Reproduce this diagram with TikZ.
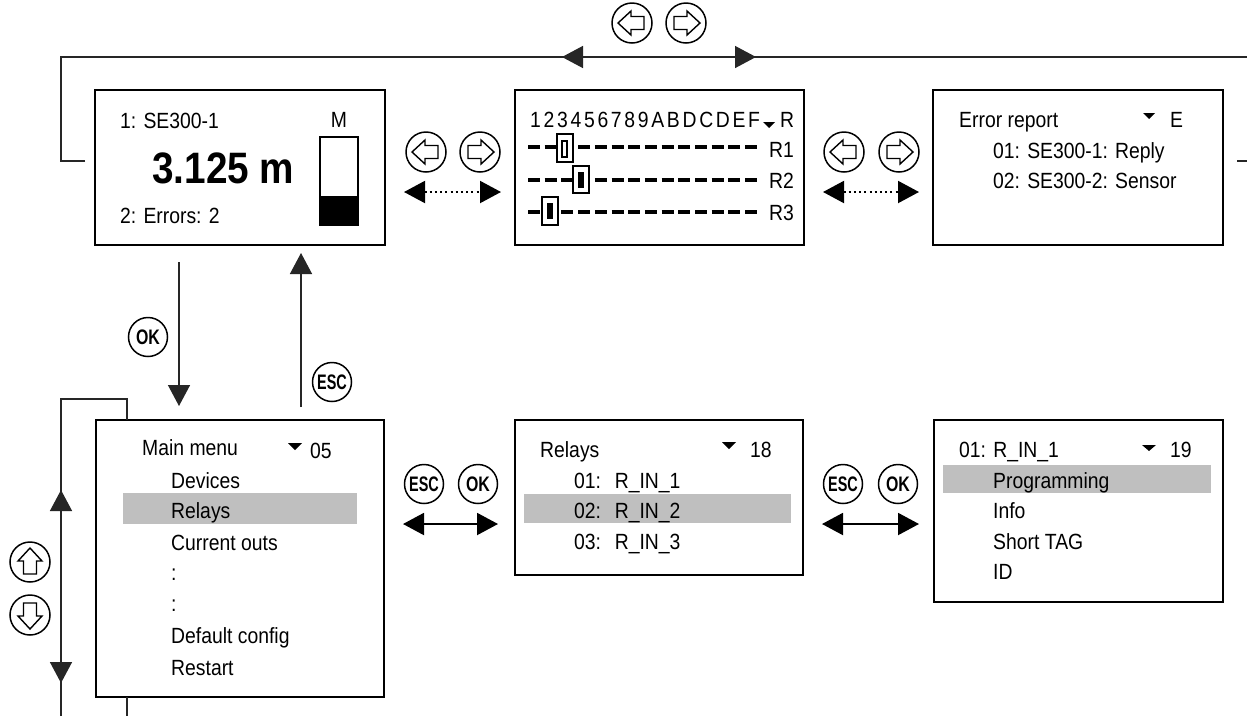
\documentclass[tikz,border=0pt]{standalone}
\usepackage{fontspec}
\setmainfont{Liberation Sans}[FakeStretch=0.88]
\usetikzlibrary{arrows.meta}
\newcommand\fsz{\fontsize{22}{26}\selectfont}
\newcommand\dtri[4]{\fill (#1-#3,#2) -- (#1+#3,#2) -- (#1,#2+#4) -- cycle;}
\newcommand\inarrow[2]{\draw[btnline, shift={(#1.center)}, rotate=#2] (-14,0) -- (-1,-12) -- (-1,-6.5) -- (12,-6.5) -- (12,6.5) -- (-1,6.5) -- (-1,12) -- cycle;}
\newcommand\lsp{\hspace{2.7pt}}
\begin{document}
\begin{tikzpicture}[x=1pt,y=-1pt,line join=miter,
  screen/.style={draw, line width=2.6pt, rectangle, inner sep=0pt},
  conn/.style={line width=1.4pt, draw=black!85},
  bigtri/.style={-{Triangle[length=21pt,width=22pt]}},
  dbltri/.style={{Triangle[length=21pt,width=22pt]}-{Triangle[length=21pt,width=22pt]}},
  btn/.style={circle, draw, line width=1.5pt, minimum size=40pt, inner sep=0pt},
  btnline/.style={line width=1.4pt},
  keybtn/.style={circle, draw, line width=1.5pt, minimum size=39pt, inner sep=0pt, font=\fontsize{21}{21}\selectfont\bfseries},
  txt/.style={anchor=base west, inner sep=0pt, font=\fsz},
  hl/.style={fill=black!25}]
\useasboundingbox (0,0) rectangle (1247,716);
\fill[white] (0,0) rectangle (1247,716);

% ---------- highlights ----------
\fill[hl] (123,493) rectangle (357,524);
\fill[hl] (524,494) rectangle (791,523);
\fill[hl] (943,465) rectangle (1211,493);

% ---------- screens ----------
\node[screen, minimum width=290pt, minimum height=155pt] (s1) at (240,167.5) {};
\node[screen, minimum width=289pt, minimum height=155pt] (s2) at (659.5,167.5) {};
\node[screen, minimum width=290pt, minimum height=155pt] (s3) at (1078,167.5) {};
\node[screen, minimum width=288pt, minimum height=277pt] (m1) at (240,558.5) {};
\node[screen, minimum width=288pt, minimum height=155pt] (m2) at (659,497.5) {};
\node[screen, minimum width=289pt, minimum height=182pt] (m3) at (1078.5,511) {};

% ---------- screen 1 ----------
\node[txt] (t11) at (120,128) {1: SE300-1};
\node[anchor=base, inner sep=0pt, font=\fsz] (t12) at (339,127) {M};
\node[txt, font=\fontsize{44}{50}\selectfont\bfseries] (t13) at (152,183) {3.125 m};
\node[txt] (t14) at (120,223) {2: Errors: 2};
\draw[line width=1.4pt] (320,137) rectangle (358,225);
\fill (320,196) rectangle (358,225);

% ---------- screen 2 ----------
\node[txt] (t2h) at (530,127) {1\lsp2\lsp3\lsp4\lsp5\lsp6\lsp7\lsp8\lsp9\lsp A\lsp B\lsp D\lsp C\lsp D\lsp E\lsp F};
\dtri{769}{122}{6}{6}
\node[txt] (t2r) at (780,127) {R};
\foreach \yy in {147,180,212}
  \draw[line width=4pt, dash pattern=on 12pt off 4.7pt] (528,\yy) -- (757,\yy);
\draw[line width=1.4pt, fill=white] (557,134) rectangle (573,162);
\draw[line width=1.4pt] (562,141) rectangle (567,157);
\draw[line width=1.4pt, fill=white] (573,166) rectangle (589,193);
\fill (578,172) rectangle (584,188);
\draw[line width=1.4pt, fill=white] (542,197) rectangle (558,225);
\fill (547,203) rectangle (553,219);
\node[txt] (r1) at (769,157) {R1};
\node[txt] (r2) at (769,188) {R2};
\node[txt] (r3) at (769,220) {R3};

% ---------- screen 3 ----------
\node[txt] (t31) at (959,127) {Error report};
\dtri{1149}{113}{6}{6}
\node[txt] (t32) at (1170,127) {E};
\node[txt] (t33) at (993,158) {01: SE300-1: Reply};
\node[txt] (t34) at (993,188) {02: SE300-2: Sensor};

% ---------- main menu ----------
\node[txt] (u0) at (142,455) {Main menu};
\dtri{295}{443}{7}{7}
\node[txt] (u00) at (310,458) {05};
\node[txt] (u1) at (171,488) {Devices};
\node[txt] (u2) at (171,518) {Relays};
\node[txt] (u3) at (171,550) {Current outs};
\node[txt] (u4) at (171,580) {:};
\node[txt] (u5) at (171,611) {:};
\node[txt] (u6) at (171,643) {Default config};
\node[txt] (u7) at (171,675) {Restart};

% ---------- relays ----------
\node[txt] (v0) at (540,457) {Relays};
\dtri{729}{442}{7}{7}
\node[txt] (v00) at (750,457) {18};
\node[txt] (v1) at (574,488) {01: \hspace{6.5pt}R\_IN\_1};
\node[txt] (v2) at (574,518) {02: \hspace{6.5pt}R\_IN\_2};
\node[txt] (v3) at (574,549) {03: \hspace{6.5pt}R\_IN\_3};

% ---------- relay 1 ----------
\node[txt] (w0) at (959,457) {01: R\_IN\_1};
\dtri{1149}{445}{7}{6}
\node[txt] (w00) at (1170,457) {19};
\node[txt] (w1) at (993,488) {Programming};
\node[txt] (w2) at (993,518) {Info};
\node[txt] (w3) at (993,549) {Short TAG};
\node[txt] (w4) at (993,579) {ID};

% ---------- top loop ----------
\coordinate (p1) at (85,161);
\coordinate (p2) at (61,161);
\coordinate (p3) at (61,57);
\coordinate (p4) at (1247,57);
\coordinate (p5) at (1237,161);
\coordinate (p6) at (1247,161);
\draw[conn] (p1) -- (p2) -- (p3) -- (p4);
\draw[conn] (p5) -- (p6);
\coordinate (ta1) at (585,57); \coordinate (ta2) at (562,57);
\coordinate (tb1) at (733,57); \coordinate (tb2) at (756,57);
\draw[conn, bigtri] (ta1) -- (ta2);
\draw[conn, bigtri] (tb1) -- (tb2);
\node[btn] (bt1) at (632,23) {};
\node[btn] (bt2) at (686,23) {};
\inarrow{bt1}{0}
\inarrow{bt2}{180}

% ---------- between top screens ----------
\coordinate (d1a) at (404,192); \coordinate (d1b) at (501,192);
\coordinate (d2a) at (823,192); \coordinate (d2b) at (919,192);
\draw[line width=2pt, dash pattern=on 2pt off 3.2pt, dbltri] (d1a) -- (d1b);
\draw[line width=2pt, dash pattern=on 2pt off 3.2pt, dbltri] (d2a) -- (d2b);
\node[btn] (bm1) at (426,152) {};
\node[btn] (bm2) at (480,152) {};
\node[btn] (bm3) at (844,152) {};
\node[btn] (bm4) at (899,152) {};
\inarrow{bm1}{0}
\inarrow{bm2}{180}
\inarrow{bm3}{0}
\inarrow{bm4}{180}

% ---------- OK / ESC vertical ----------
\coordinate (ok1) at (179,262); \coordinate (ok2) at (179,406);
\coordinate (es1) at (301,407); \coordinate (es2) at (301,253);
\draw[conn, bigtri] (ok1) -- (ok2);
\draw[conn, bigtri] (es1) -- (es2);
\node[keybtn] (kok) at (148,337) {\scalebox{0.86}[1]{OK}};
\node[keybtn] (kesc) at (332,382) {\scalebox{0.78}[1]{ESC}};

% ---------- left loop ----------
\coordinate (q1) at (61,716);
\coordinate (q2) at (61,399);
\coordinate (q3) at (127,399);
\coordinate (q4) at (127,420);
\coordinate (q5) at (127,697);
\coordinate (q6) at (127,716);
\draw[conn] (q1) -- (q2) -- (q3) -- (q4);
\draw[conn] (q5) -- (q6);
\coordinate (ua1) at (61,512); \coordinate (ua2) at (61,490);
\coordinate (da1) at (61,661); \coordinate (da2) at (61,683);
\draw[conn, bigtri] (ua1) -- (ua2);
\draw[conn, bigtri] (da1) -- (da2);
\node[btn] (bu) at (30,562) {};
\node[btn] (bd) at (30,615) {};
\inarrow{bu}{-90}
\inarrow{bd}{90}

% ---------- bottom horizontal ----------
\coordinate (h1a) at (403,524); \coordinate (h1b) at (498,524);
\coordinate (h2a) at (822,524); \coordinate (h2b) at (919,524);
\draw[line width=2pt, dbltri] (h1a) -- (h1b);
\draw[line width=2pt, dbltri] (h2a) -- (h2b);
\node[keybtn] (ke1) at (424,484) {\scalebox{0.78}[1]{ESC}};
\node[keybtn] (ko1) at (478,484) {\scalebox{0.86}[1]{OK}};
\node[keybtn] (ke2) at (843,484) {\scalebox{0.78}[1]{ESC}};
\node[keybtn] (ko2) at (898,484) {\scalebox{0.86}[1]{OK}};
\end{tikzpicture}
\end{document}
